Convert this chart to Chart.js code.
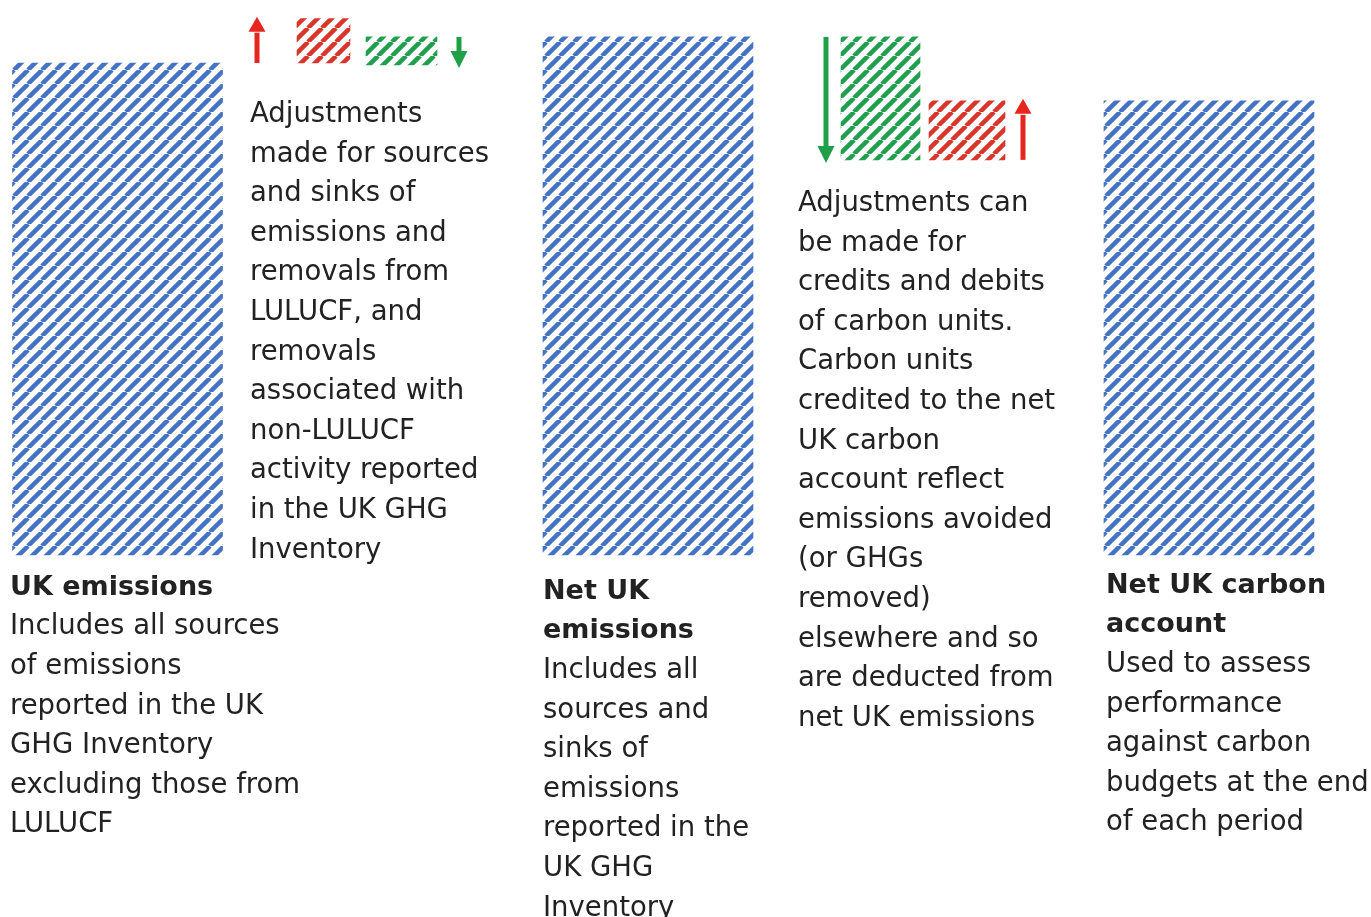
<!DOCTYPE html>
<html>
<head>
<meta charset="utf-8">
<script src="https://cdn.jsdelivr.net/npm/chart.js@4.4.1/dist/chart.umd.min.js"></script>
<style>
  html, body { margin: 0; padding: 0; background: #fff; }
  #wrap { position: relative; width: 1371px; height: 917px; }
</style>
</head>
<body>
<div id="wrap"><canvas id="flow"></canvas></div>
<script>
// stage totals (blue bars)
const stages = ['UK emissions', 'Net UK emissions', 'Net UK carbon account'];
const stageValues = [100, 105.3, 92.3];

// adjustments between stages, as floating bars [low, high]
const adjustments = ['LULUCF sources', 'LULUCF and non-LULUCF removals', 'Carbon units credited', 'Carbon units debited'];
const adjustmentRanges = [[100, 109], [99.6, 105.3], [80.3, 105.3], [80.3, 92.3]];
const adjustmentDirection = ['up', 'down', 'down', 'up'];

// explanatory notes
const noteLines = [
    ['UK emissions', 'Includes all sources', 'of emissions', 'reported in the UK', 'GHG Inventory', 'excluding those from', 'LULUCF'],
    ['Adjustments', 'made for sources', 'and sinks of', 'emissions and', 'removals from', 'LULUCF, and', 'removals', 'associated with', 'non-LULUCF', 'activity reported', 'in the UK GHG', 'Inventory'],
    ['Net UK', 'emissions', 'Includes all', 'sources and', 'sinks of', 'emissions', 'reported in the', 'UK GHG', 'Inventory'],
    ['Adjustments can', 'be made for', 'credits and debits', 'of carbon units.', 'Carbon units', 'credited to the net', 'UK carbon', 'account reflect', 'emissions avoided', '(or GHGs', 'removed)', 'elsewhere and so', 'are deducted from', 'net UK emissions'],
    ['Net UK carbon', 'account', 'Used to assess', 'performance', 'against carbon', 'budgets at the end', 'of each period']
];
const noteBoldLines = [1, 0, 2, 0, 2];

// layout (x scale runs across the page)
const stageX = [117.5, 648, 1209];
const adjX = [323.5, 401.5, 880.5, 967];
const adjWidth = [53, 71, 79, 76];
const arrowX = [257, 459, 826, 1023];
const noteX = [10, 250, 543, 798, 1106];
const noteY = [-8.1, 88.0, -8.9, 69.9, -7.7];

const BLUE = '#4472c4';
const RED = '#d8352b';
const GREEN = '#20a04d';
const ARROW_RED = '#e6261e';
const ARROW_GREEN = '#1f9f48';

function hatch(color, width) {
    const p = 14;
    const c = document.createElement('canvas');
    c.width = p;
    c.height = p;
    const g = c.getContext('2d');
    g.strokeStyle = color;
    g.lineWidth = width;
    for (let k = -1; k <= 1; k++) {
        g.beginPath();
        g.moveTo(k * p, p);
        g.lineTo(k * p + p, 0);
        g.stroke();
    }
    return g.createPattern(c, 'repeat');
}

function drawArrow(ctx, x, yFrom, yTo, color) {
    const dir = yTo < yFrom ? -1 : 1;
    const head = 16;
    ctx.save();
    ctx.strokeStyle = color;
    ctx.lineWidth = 5;
    ctx.beginPath();
    ctx.moveTo(x, yFrom);
    ctx.lineTo(x, yTo - dir * head);
    ctx.stroke();
    ctx.fillStyle = color;
    ctx.beginPath();
    ctx.moveTo(x, yTo);
    ctx.lineTo(x - 8.5, yTo - dir * head - 1);
    ctx.lineTo(x + 8.5, yTo - dir * head - 1);
    ctx.closePath();
    ctx.fill();
    ctx.restore();
}

const annotations = {
    id: 'annotations',
    afterDatasetsDraw(chart) {
        const ctx = chart.ctx;
        const xs = chart.scales.x;
        const ys = chart.scales.y;

        adjustments.forEach((a, i) => {
            const [lo, hi] = adjustmentRanges[i];
            const yLo = ys.getPixelForValue(lo);
            const yHi = ys.getPixelForValue(hi);
            if (adjustmentDirection[i] === 'up') {
                drawArrow(ctx, xs.getPixelForValue(arrowX[i]), yLo, yHi - 2, ARROW_RED);
            } else {
                drawArrow(ctx, xs.getPixelForValue(arrowX[i]), yHi, yLo + 3, ARROW_GREEN);
            }
        });

        ctx.save();
        ctx.fillStyle = '#222';
        ctx.textBaseline = 'alphabetic';
        ctx.textAlign = 'left';
        noteLines.forEach((lines, b) => {
            const x = xs.getPixelForValue(noteX[b]);
            const y0 = ys.getPixelForValue(noteY[b]);
            lines.forEach((line, i) => {
                ctx.font = (i < noteBoldLines[b] ? 'bold 27px' : '27.5px') + ' "DejaVu Sans"';
                ctx.fillText(line, x, y0 + i * 39.6);
            });
        });
        ctx.restore();
    }
};

const ctxFlow = document.getElementById('flow').getContext('2d');

let flowChart = new Chart(ctxFlow, {
    type: 'bar',
    data: {
        datasets: [
            {
                label: 'Totals',
                data: stages.map((s, i) => ({ x: stageX[i], y: [0, stageValues[i]] })),
                backgroundColor: hatch(BLUE, 4.5),
                barThickness: 210
            },
            ...adjustments.map((a, i) => ({
                label: a,
                data: [{ x: adjX[i], y: adjustmentRanges[i] }],
                backgroundColor: hatch(adjustmentDirection[i] === 'up' ? RED : GREEN, 4.5),
                barThickness: adjWidth[i]
            }))
        ]
    },
    options: {
        responsive: true,
        maintainAspectRatio: false,
        animation: false,
        grouped: false,
        layout: { padding: 0 },
        scales: {
            x: { type: 'linear', min: 0, max: 1371, offset: false, display: false },
            y: { min: -73.58, max: 112.8, display: false }
        },
        plugins: {
            legend: { display: false },
            tooltip: { enabled: false }
        }
    },
    plugins: [annotations]
});
</script>
</body>
</html>
